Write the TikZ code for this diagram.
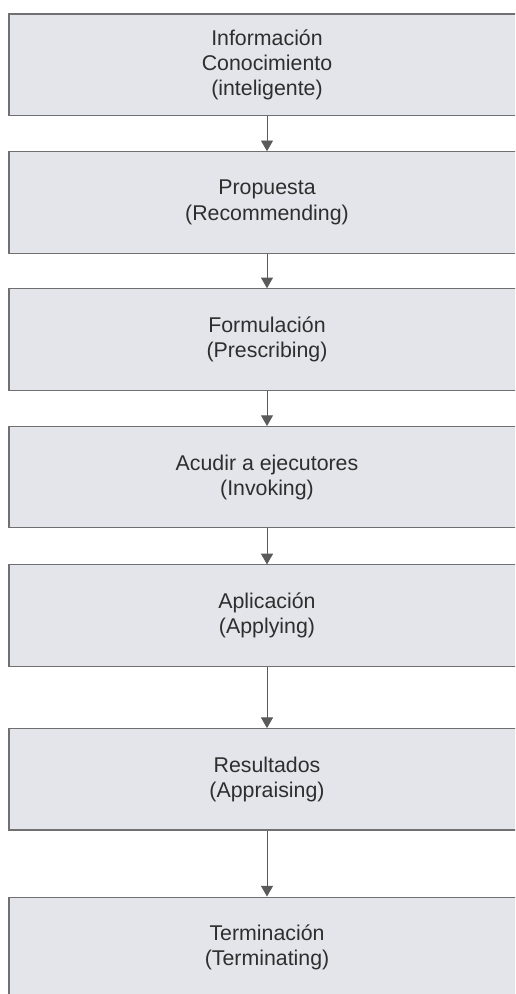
\documentclass[tikz,border=0pt]{standalone}
\usepackage{fontspec}
\setmainfont{Liberation Sans}
\usepackage{tikz}
\usetikzlibrary{positioning,arrows.meta}
\definecolor{boxfill}{HTML}{E3E5EB}
\definecolor{boxline}{HTML}{707070}
\definecolor{boxtext}{HTML}{2E2E2E}
\tikzstyle{stagebox} = [draw=boxline, fill=boxfill, line width=0.8pt,
    rectangle, minimum width=387pt, minimum height=76pt,
    align=center, text=boxtext, font=\fontsize{16}{18.8}\selectfont]
\tikzstyle{flow} = [draw=boxline!80!black, line width=0.7pt,
    -{Triangle[width=9pt,length=8pt]}]

\begin{document}
\begin{tikzpicture}

\useasboundingbox (0,0) rectangle (386.25pt,-745.5pt);
\clip (0,0) rectangle (386.25pt,-745.5pt);

\node [stagebox] (info) at (200.25pt,-48.5pt) {%
    Información\\ Conocimiento\\ (inteligente)};

\node [stagebox, below=26.5pt of info] (propuesta) {%
    Propuesta\\ (Recommending)};
\draw [flow] (info) -- (propuesta);

\node [stagebox, below=26pt of propuesta] (formulacion) {%
    Formulación\\ (Prescribing)};
\draw [flow] (propuesta) -- (formulacion);

\node [stagebox, below=26.5pt of formulacion] (acudir) {%
    Acudir a ejecutores\\ (Invoking)};
\draw [flow] (formulacion) -- (acudir);

\node [stagebox, below=27pt of acudir] (aplicacion) {%
    Aplicación\\ (Applying)};
\draw [flow] (acudir) -- (aplicacion);

\node [stagebox, below=46pt of aplicacion] (resultados) {%
    Resultados\\ (Appraising)};
\draw [flow] (aplicacion) -- (resultados);

\node [stagebox, below=49.5pt of resultados] (terminacion) {%
    Terminación\\ (Terminating)};
\draw [flow] (resultados) -- (terminacion);

\end{tikzpicture}
\end{document}
